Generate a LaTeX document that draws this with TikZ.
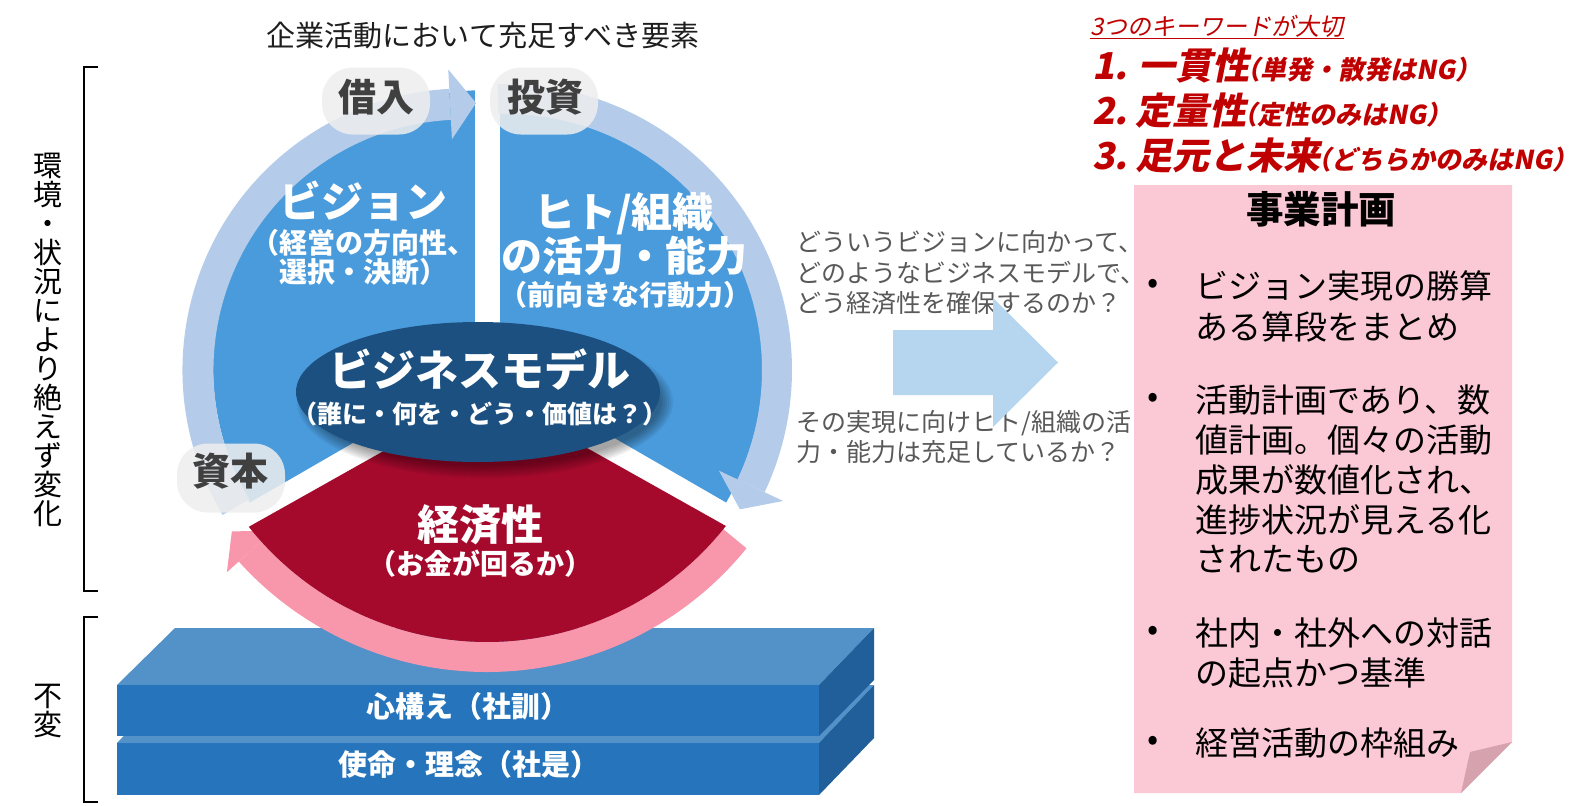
\documentclass[tikz,border=0pt]{standalone}
\usepackage{fontspec}
\setmainfont{Noto Sans CJK JP}
\newfontfamily\jpit{Noto Sans CJK JP}[FakeSlant=0.2]
\usetikzlibrary{calc}
\newcommand\jfs[1]{\fontsize{#1}{#1}\selectfont}
\definecolor{secblue}{RGB}{74,155,220}
\definecolor{ringblue}{RGB}{180,203,233}
\definecolor{ecored}{RGB}{165,10,45}
\definecolor{ringpink}{RGB}{248,151,172}
\definecolor{modelblue}{RGB}{28,80,128}
\definecolor{bubblegray}{RGB}{238,238,238}
\definecolor{slabfront}{RGB}{38,117,188}
\definecolor{slabtop}{RGB}{82,146,201}
\definecolor{slabside}{RGB}{33,95,154}
\definecolor{bigarrow}{RGB}{182,214,240}
\definecolor{notepink}{RGB}{251,200,213}
\definecolor{notefold}{RGB}{213,162,174}
\definecolor{keyred}{RGB}{192,0,0}
\definecolor{graytext}{RGB}{89,89,89}
\definecolor{darktext}{RGB}{64,64,64}
\definecolor{titlecol}{RGB}{30,30,30}
\begin{document}
\begin{tikzpicture}[x=1pt,y=-1pt,
  jl/.style={inner sep=0pt, anchor=base},
  jlw/.style={inner sep=0pt, anchor=base west},
  whitebig/.style={jl, font=\jfs{42}\bfseries, text=white},
  whitesub/.style={jl, font=\jfs{28}\bfseries, text=white},
  bubble/.style={draw=none, fill=bubblegray, fill opacity=0.85, rounded corners=31pt, minimum width=108pt, minimum height=67pt, inner sep=0pt},
  bubbletext/.style={jl, font=\jfs{38}\bfseries, text=darktext},
  graytxt/.style={jlw, font=\jfs{25}, text=graytext},
  bodytxt/.style={jlw, font=\jfs{33}, text=black},
  bulletdot/.style={inner sep=0pt, font=\jfs{33}, text=black},
  keyline/.style={jlw, font=\jpit\bfseries\jfs{37}, text=keyred},
  slabtxt/.style={jl, font=\jfs{29}\bfseries, text=white},
  bracket/.style={draw=black, line width=1.3pt}
]
\fill[white] (0,0) rectangle (1591,806);
\useasboundingbox (0,0) rectangle (1591,806);

% ---------- brackets and side labels ----------
\coordinate (b1a) at (98,67); \coordinate (b1b) at (84,67);
\coordinate (b1c) at (84,591); \coordinate (b1d) at (98,591);
\draw[bracket] (b1a) -- (b1b) -- (b1c) -- (b1d);
\coordinate (b2a) at (98,617); \coordinate (b2b) at (84,617);
\coordinate (b2c) at (84,802); \coordinate (b2d) at (98,802);
\draw[bracket] (b2a) -- (b2b) -- (b2c) -- (b2d);
\node[inner sep=0pt, font=\fontsize{29}{29}\selectfont, align=center] (envtext) at (48,340)
  {環\\境\\・\\状\\況\\に\\よ\\り\\絶\\え\\ず\\変\\化};
\node[inner sep=0pt, font=\fontsize{29}{29}\selectfont, align=center] (fixtext) at (48,711) {不\\変};

% ---------- title ----------
\node[jl, font=\jfs{29}, text=titlecol] (title) at (483,46) {企業活動において充足すべき要素};

% ---------- slabs ----------
\fill[slabtop] (117,743) -- (172,685) -- (874,685) -- (819,743) -- cycle;
\fill[slabside] (819,743) -- (874,685) -- (874,738) -- (819,795) -- cycle;
\fill[slabfront] (117,743) rectangle (819,795);
\fill[slabtop] (117,685) -- (175,628) -- (874,628) -- (819,685) -- cycle;
\fill[slabside] (819,685) -- (874,628) -- (874,680) -- (819,736) -- cycle;
\fill[slabfront] (117,685) rectangle (819,736);
\node[slabtxt] (slab1) at (468,717) {心構え（社訓）};
\node[slabtxt] (slab2) at (468.5,775) {使命・理念（社是）};

% ---------- blue sectors ----------
\coordinate (C) at (488,365);
\fill[secblue] (C) -- ++(150:275) arc[start angle=150, end angle=270, radius=275] -- cycle;
\fill[secblue] (C) -- ++(-90:275) arc[start angle=-90, end angle=30, radius=275] -- cycle;
\fill[white] (475,60) rectangle (500,372);

% ---------- pink ring arrow ----------
\coordinate (Cp) at (487,338);
\draw[ringpink, line width=30pt] ($(Cp)+(39:319)$) arc[start angle=39, end angle=138, radius=319];
\fill[ringpink] ($(Cp)+(138:350)$) -- ($(Cp)+(138:319)+(228:27)$) -- ($(Cp)+(138:288)$) -- cycle;

% ---------- red sector ----------
\fill[ecored] (488,392.4) -- ($(Cp)+(141.6:304)$) arc[start angle=141.6, end angle=38.2, radius=304] -- cycle;

% ---------- business model ellipse ----------
\foreach \i in {1,...,7}
  \fill[black, opacity=0.06] (485,402) ellipse [x radius={174+2*\i}, y radius={62+2*\i}];
\fill[modelblue] (478,392) ellipse [x radius=182, y radius=70];

% ---------- light blue ring arrows ----------
\coordinate (Cl) at (464,370);
\draw[ringblue, line width=31pt] ($(Cl)+(149:266)$) arc[start angle=149, end angle=267, radius=266];
\fill[ringblue] ($(Cl)+(267:301)$) -- ($(Cl)+(267:266)+(357:26)$) -- ($(Cl)+(267:231)$) -- cycle;
\coordinate (Cr) at (506,370);
\draw[ringblue, line width=30pt] ($(Cr)+(-91.7:271)$) arc[start angle=-91.7, end angle=25.3, radius=271];
\fill[ringblue] ($(Cr)+(25.3:306.5)$) -- ($(Cr)+(25.3:271)+(115.3:26)$) -- ($(Cr)+(25.3:235.5)$) -- cycle;

% ---------- texts inside the circle ----------
\node[whitebig] (eco1) at (480,540) {経済性};
\node[whitesub] (eco2) at (480,574.6) {（お金が回るか）};
\node[jl, font=\jfs{43}\bfseries, text=white] (model1) at (480,386.3) {ビジネスモデル};
\node[jl, font=\jfs{25}\bfseries, text=white] (model2) at (480,423.5) {（誰に・何を・どう・価値は？）};
\node[whitebig] (vis1) at (363,217) {ビジョン};
\node[whitesub] (vis2) at (363,253.6) {（経営の方向性、};
\node[whitesub] (vis3) at (363,282.6) {選択・決断）};
\node[whitebig, font=\jfs{41}\bfseries] (org1) at (624,227) {ヒト/組織};
\node[whitebig, font=\jfs{41}\bfseries] (org2) at (624,271) {の活力・能力};
\node[whitesub] (org3) at (625,305.6) {（前向きな行動力）};

% ---------- bubbles ----------
\node[bubble] (borrow) at (376,101) {};
\node[bubble] (invest) at (544,101) {};
\node[bubble, minimum height=69pt] (capital) at (231,478) {};
\node[bubbletext] (borrowt) at (376,111.4) {借入};
\node[bubbletext] (investt) at (545,111.4) {投資};
\node[bubbletext] (capitalt) at (230,485.4) {資本};

% ---------- middle texts and big arrow ----------
\node[graytxt] (q1) at (796,251.5) {どういうビジョンに向かって、};
\node[graytxt] (q2) at (796,282) {どのようなビジネスモデルで、};
\node[graytxt] (q3) at (796,312.5) {どう経済性を確保するのか？};
\node[graytxt] (q4) at (796,431.5) {その実現に向けヒト/組織の活};
\node[graytxt] (q5) at (796,461.5) {力・能力は充足しているか？};
\fill[bigarrow] (893,330) -- (993,330) -- (993,298) -- (1058,362.5) -- (993,427) -- (993,395) -- (893,395) -- cycle;

% ---------- keywords ----------
\node[jlw, font=\jpit\jfs{24}, text=keyred] (kw) at (1090,35) {3つのキーワードが大切};
\draw[keyred, line width=1.2pt] ($(kw.base west)+(0,3.5)$) -- ($(kw.base east)+(0,3.5)$);
\node[keyline] (k1) at (1092,79) {1.\hspace{11pt}一貫性\hspace{-15pt}{\jfs{26}（単発・散発はNG）}};
\node[keyline] (k2) at (1092,124) {2.\hspace{8pt}定量性\hspace{-15pt}{\jfs{26}（定性のみはNG）}};
\node[keyline] (k3) at (1092,169) {3.\hspace{8pt}足元と未来\hspace{-15pt}{\jfs{26}（どちらかのみはNG）}};

% ---------- business plan note ----------
\fill[notepink] (1134,185) -- (1512,185) -- (1512,742) -- (1461,793) -- (1134,793) -- cycle;
\fill[notefold] (1512,742) -- (1470,752) -- (1461,793) -- cycle;
\node[jl, font=\jfs{37.5}\bfseries, text=black] (plan) at (1321,223) {事業計画};
\node[bulletdot] (d1) at (1153,286) {•};
\node[bulletdot] (d2) at (1153,400) {•};
\node[bulletdot] (d3) at (1153,633) {•};
\node[bulletdot] (d4) at (1153,743) {•};
\node[bodytxt] (p1a) at (1195,298.5) {ビジョン実現の勝算};
\node[bodytxt] (p1b) at (1195,339.5) {ある算段をまとめ};
\node[bodytxt] (p2a) at (1195,412.5) {活動計画であり、数};
\node[bodytxt] (p2b) at (1195,452.5) {値計画。個々の活動};
\node[bodytxt] (p2c) at (1195,492.5) {成果が数値化され、};
\node[bodytxt] (p2d) at (1195,532.5) {進捗状況が見える化};
\node[bodytxt] (p2e) at (1195,571.5) {されたもの};
\node[bodytxt] (p3a) at (1195,645.5) {社内・社外への対話};
\node[bodytxt] (p3b) at (1195,685.5) {の起点かつ基準};
\node[bodytxt] (p4a) at (1195,755.5) {経営活動の枠組み};
\end{tikzpicture}
\end{document}
